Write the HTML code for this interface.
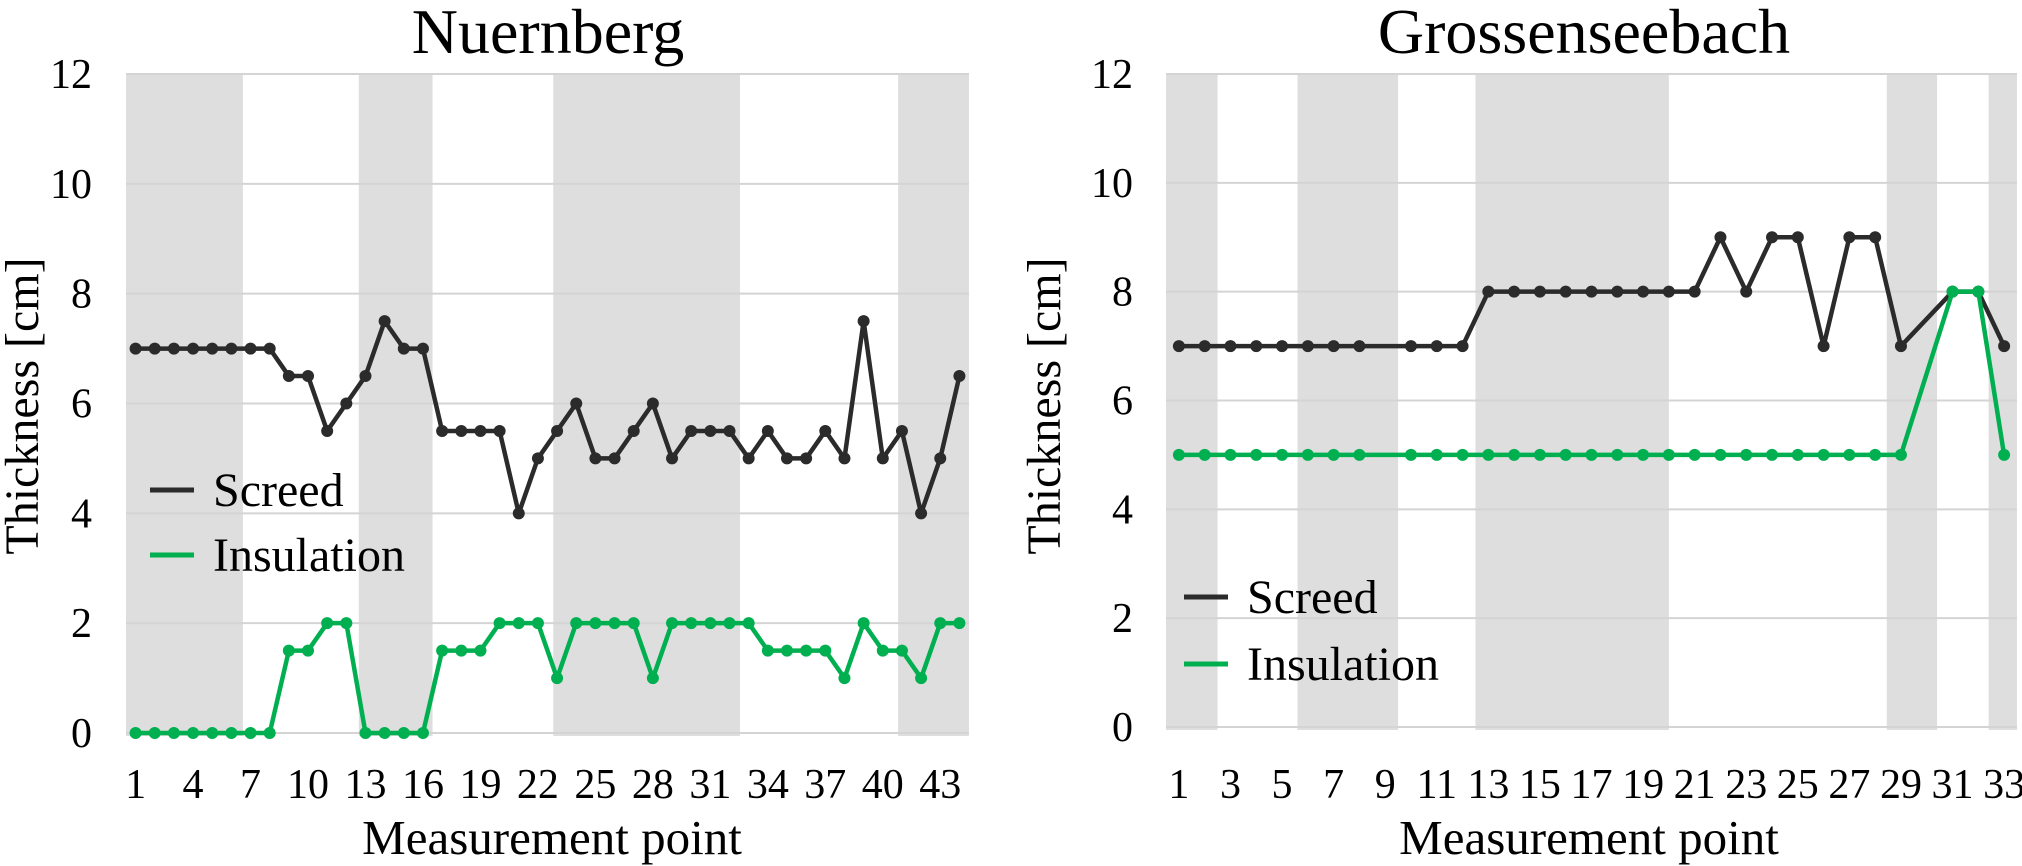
<!DOCTYPE html>
<html><head><meta charset="utf-8"><style>
html,body{margin:0;padding:0;background:#fff;}
svg{display:block;font-family:"Liberation Serif",serif;}
</style></head><body>
<svg id="c" width="2022" height="866" viewBox="0 0 2022 866" xmlns="http://www.w3.org/2000/svg"></svg>
<script>
const nCats = 44;
const nScreed = [7,7,7,7,7,7,7,7,6.5,6.5,5.5,6,6.5,7.5,7,7,5.5,5.5,5.5,5.5,4,5,5.5,6,5,5,5.5,6,5,5.5,5.5,5.5,5,5.5,5,5,5.5,5,7.5,5,5.5,4,5,6.5];
const nInsul = [0,0,0,0,0,0,0,0,1.5,1.5,2,2,0,0,0,0,1.5,1.5,1.5,2,2,2,1,2,2,2,2,1,2,2,2,2,2,1.5,1.5,1.5,1.5,1,2,1.5,1.5,1,2,2];
const nBands = [[0,6.1],[12.15,16],[22.3,32.05],[40.3,44]];
const nTicks = [1,4,7,10,13,16,19,22,25,28,31,34,37,40,43];
const gCats = 33;
const gScreed = [7,7,7,7,7,7,7,7,null,7,7,7,8,8,8,8,8,8,8,8,8,9,8,9,9,7,9,9,7,null,8,8,7];
const gInsul = [5,5,5,5,5,5,5,5,null,5,5,5,5,5,5,5,5,5,5,5,5,5,5,5,5,5,5,5,5,null,8,8,5];
const gBands = [[0,2.0],[5.1,9.0],[12.0,19.5],[27.95,29.9],[31.9,33]];
const gTicks = [1,3,5,7,9,11,13,15,17,19,21,23,25,27,29,31,33];
const yTicks = [0,2,4,6,8,10,12];

const NS='http://www.w3.org/2000/svg';
const svg=document.getElementById('c');
function mk(tag,attrs,parent){const e=document.createElementNS(NS,tag);for(const k in attrs)e.setAttribute(k,attrs[k]);(parent||svg).appendChild(e);return e;}

function chart(o){
  const g=mk('g',{});
  
  
  const bw=(o.x1-o.x0)/o.n;
  const xc=i=>o.x0+(i+0.5)*bw;
  const xb=v=>o.x0+v*bw;
  const y=v=>o.y0+(o.yTop-o.y0)*v/12;
  o.bands.forEach(b=>{
    const r=mk('rect',{x:xb(b[0]),y:o.yTop,width:xb(b[1])-xb(b[0]),height:o.y0-o.yTop+3,fill:'#dedede'},g);
    
    
  });
  yTicks.forEach(t=>{
    const l=mk('line',{x1:o.x0,x2:o.x1,y1:y(t),y2:y(t),stroke:'#d4d4d4','stroke-width':2},g);
    
    
    const tx=mk('text',{x:o.yLabX,y:y(t)+14,'text-anchor':'end','font-size':42,fill:'#000'},g);
    tx.textContent=t;
    
    
  });
  o.ticks.forEach(t=>{
    const tx=mk('text',{x:xc(t-1),y:798,'text-anchor':'middle','font-size':42,fill:'#000'},g);
    tx.textContent=t;
    
    
  });
  [[o.s1,'#2b2b2b','screed-series'],[o.s2,'#00b050','insulation-series']].forEach(([data,col,name])=>{
    let d='';data.forEach((v,i)=>{if(v===null)return;d+=(d?'L':'M')+xc(i)+' '+y(v);});
    const p=mk('path',{d:d,fill:'none',stroke:col,'stroke-width':4.5,'stroke-linejoin':'round'},g);
    
    
    data.forEach((v,i)=>{if(v===null)return;
      const c=mk('circle',{cx:xc(i),cy:y(v),r:6,fill:col},g);
      
      
    });
  });
  const t=mk('text',{x:o.titleX,y:53,'text-anchor':'middle','font-size':64,fill:'#000'},g);
  t.textContent=o.title;
  
  
  const xt=mk('text',{x:o.xTitleX,y:854,'text-anchor':'middle','font-size':49,fill:'#000'},g);
  xt.textContent='Measurement point';
  
  
  const yt=mk('text',{x:0,y:0,'text-anchor':'middle','font-size':48,fill:'#000',transform:'translate('+(o.yTitleX)+',406) rotate(-90)'},g);
  yt.textContent='Thickness [cm]';
  
  
  [['Screed','#2b2b2b',o.leg[1]],['Insulation','#00b050',o.leg[2]]].forEach(([lab,col,ly])=>{
    const l=mk('line',{x1:o.leg[0],x2:o.leg[0]+44,y1:ly,y2:ly,stroke:col,'stroke-width':5},g);
    
    
    const tx=mk('text',{x:o.leg[0]+63,y:ly+16,'font-size':48,fill:'#000'},g);
    tx.textContent=lab;
    
    
  });
}
chart({id:'nuernberg',title:'Nuernberg',x0:126,x1:969,yTop:74,y0:733,n:nCats,s1:nScreed,s2:nInsul,bands:nBands,ticks:nTicks,yLabX:92,titleX:548,xTitleX:552,yTitleX:38,leg:[150,490,555]});
chart({id:'grossenseebach',title:'Grossenseebach',x0:1166,x1:2017,yTop:74,y0:727,n:gCats,s1:gScreed,s2:gInsul,bands:gBands,ticks:gTicks,yLabX:1133,titleX:1584,xTitleX:1589,yTitleX:1060,leg:[1184,597,664]});
</script>
</body></html>
